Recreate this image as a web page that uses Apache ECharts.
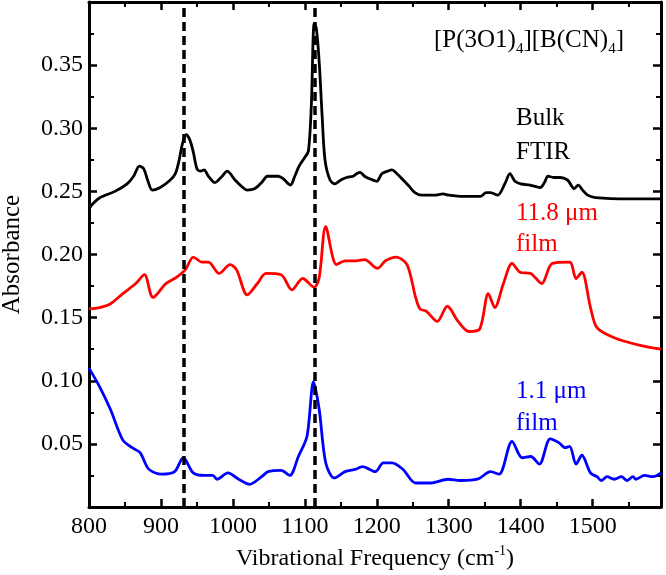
<!DOCTYPE html>
<html>
<head>
    <meta charset="utf-8">
    <title>FTIR</title>
    <script src="https://cdn.jsdelivr.net/npm/echarts@6/dist/echarts.min.js"></script>
    <style>
        html, body { margin: 0; padding: 0; background: #fff; }
        #chart1 { width: 666px; height: 575px; }
    </style>
</head>
<body>
<div id="chart1"></div>
<script>
    // 数据: 频率 (cm-1) 与吸光度
    var bulkX = [800, 805, 815, 836, 853, 862, 870, 876, 882, 888, 899, 913, 920, 925, 930, 935, 940, 945, 950, 955, 960,
        966, 975, 985, 992, 1003, 1012, 1020, 1030, 1040, 1048, 1055, 1063, 1070, 1080, 1086, 1092, 1100, 1105, 1109, 1113,
        1116, 1120, 1124, 1128, 1135, 1142, 1150, 1158, 1167, 1172, 1177, 1183, 1190, 1200, 1207, 1215, 1221, 1228, 1235, 1245,
        1253, 1262, 1280, 1292, 1300, 1320, 1344, 1352, 1358, 1368, 1378, 1385, 1392, 1400, 1413, 1427, 1433, 1438, 1446, 1455,
        1465, 1470, 1474, 1480, 1486, 1493, 1504, 1550, 1595];
    var bulkY = [0.236, 0.240, 0.245, 0.250, 0.256, 0.262, 0.270, 0.268, 0.258, 0.251, 0.253, 0.259, 0.264, 0.274, 0.288, 0.295, 0.291, 0.281, 0.268, 0.266, 0.267,
        0.262, 0.257, 0.262, 0.266, 0.259, 0.254, 0.251, 0.252, 0.257, 0.262, 0.262, 0.262, 0.260, 0.255, 0.262, 0.270, 0.277, 0.282, 0.318, 0.383,
        0.379, 0.352, 0.310, 0.275, 0.259, 0.256, 0.259, 0.261, 0.262, 0.264, 0.265, 0.262, 0.260, 0.258, 0.264, 0.266, 0.267, 0.264, 0.260, 0.254,
        0.249, 0.247, 0.247, 0.248, 0.247, 0.246, 0.246, 0.249, 0.249, 0.247, 0.256, 0.264, 0.258, 0.256, 0.255, 0.253, 0.257, 0.262, 0.261, 0.261,
        0.259, 0.255, 0.252, 0.255, 0.251, 0.247, 0.245, 0.244, 0.244];

    var filmX = [800, 815, 830, 847, 865, 877, 889, 907, 922, 934, 945, 957, 966, 981, 996, 1005, 1020, 1034, 1046, 1067,
        1082, 1097, 1113, 1120, 1129, 1144, 1156, 1171, 1183, 1201, 1212, 1227, 1242, 1254, 1260, 1269, 1284, 1298, 1313, 1328,
        1343, 1355, 1364, 1376, 1388, 1399, 1414, 1429, 1444, 1468, 1477, 1485, 1497, 1506, 1530, 1566, 1595];
    var filmY = [0.157, 0.158, 0.161, 0.169, 0.177, 0.184, 0.166, 0.177, 0.182, 0.188, 0.198, 0.194, 0.194, 0.185, 0.192, 0.188, 0.168, 0.177, 0.185, 0.184,
        0.172, 0.181, 0.174, 0.182, 0.222, 0.192, 0.195, 0.195, 0.196, 0.189, 0.195, 0.198, 0.192, 0.166, 0.157, 0.155, 0.147, 0.159, 0.147, 0.139,
        0.141, 0.169, 0.158, 0.177, 0.193, 0.186, 0.185, 0.177, 0.193, 0.194, 0.181, 0.186, 0.158, 0.142, 0.134, 0.128, 0.125];

    var thinX = [800, 815, 830, 847, 860, 871, 883, 901, 919, 931, 945, 960, 972, 978, 993, 1008, 1023, 1040, 1049, 1067,
        1079, 1091, 1103, 1112, 1120, 1129, 1141, 1156, 1171, 1180, 1198, 1209, 1221, 1236, 1254, 1275, 1299, 1316, 1340, 1358,
        1370, 1388, 1402, 1414, 1426, 1441, 1453, 1462, 1468, 1477, 1485, 1497, 1506, 1512, 1520, 1530, 1540, 1548, 1556, 1560,
        1572, 1584, 1595];
    var thinY = [0.110, 0.095, 0.077, 0.053, 0.047, 0.043, 0.030, 0.026, 0.028, 0.039, 0.027, 0.025, 0.025, 0.022, 0.027, 0.022, 0.018, 0.024, 0.028, 0.029,
        0.025, 0.040, 0.056, 0.099, 0.077, 0.035, 0.023, 0.028, 0.030, 0.032, 0.028, 0.035, 0.035, 0.030, 0.019, 0.019, 0.022, 0.021, 0.022, 0.028,
        0.026, 0.052, 0.039, 0.040, 0.034, 0.054, 0.051, 0.047, 0.048, 0.034, 0.041, 0.027, 0.024, 0.021, 0.024, 0.022, 0.024, 0.021, 0.024, 0.022,
        0.025, 0.024, 0.027];

    var peakLines = [932, 1114];
    var xTicks = {min: 800, max: 1595, interval: 100};
    var yTicks = {min: 0, max: 0.4, interval: 0.05};

    function zip(xs, ys) {
        var out = [];
        for (var i = 0; i < xs.length; i++) out.push([xs[i], ys[i]]);
        return out;
    }

    var serif = 'Liberation Serif';

    // 每个轴单独生成样式对象
    function axisLine() {
        return {show: true, onZero: false, lineStyle: {color: '#000', width: 3}};
    }
    function tickIn() {
        return {show: true, inside: true, length: 8, lineStyle: {color: '#000', width: 2.5}};
    }
    function minorIn() {
        return {show: true, splitNumber: 2, length: 5, lineStyle: {color: '#000', width: 2}};
    }
    // 网格线保持开启但透明 (关闭时刻度会朝外)
    function hiddenSplit() {
        return {show: true, lineStyle: {color: 'rgba(0,0,0,0)', width: 0}};
    }

    function xAxis(pos, withLabel) {
        return {
            type: 'value', position: pos, min: xTicks.min, max: xTicks.max, interval: xTicks.interval,
            axisLine: axisLine(), axisTick: tickIn(), minorTick: minorIn(), splitLine: hiddenSplit(),
            axisLabel: {
                show: withLabel, showMaxLabel: false, margin: 8, color: '#000', fontFamily: serif, fontSize: 24,
                formatter: function (v) { return v > 1590 ? '' : String(Math.round(v)); }
            },
            name: withLabel ? 'Vibrational Frequency (cm{sup|-1})' : '',
            nameLocation: 'middle', nameGap: 32,
            nameTextStyle: {
                color: '#000', fontFamily: serif, fontSize: 24, lineHeight: 30,
                rich: {sup: {fontFamily: serif, fontSize: 14, lineHeight: 14, verticalAlign: 'top', color: '#000'}}
            }
        };
    }

    function yAxis(pos, withLabel) {
        return {
            type: 'value', position: pos, min: yTicks.min, max: yTicks.max, interval: yTicks.interval,
            axisLine: axisLine(), axisTick: tickIn(), minorTick: minorIn(), splitLine: hiddenSplit(),
            axisLabel: {
                show: withLabel, margin: 6, color: '#000', fontFamily: serif, fontSize: 24,
                formatter: function (v) { return (v < 0.01 || v > 0.39) ? '' : v.toFixed(2); }
            },
            name: withLabel ? 'Absorbance' : '',
            nameLocation: 'middle', nameGap: 64,
            nameTextStyle: {color: '#000', fontFamily: serif, fontSize: 25}
        };
    }

    function note(text, x, y, color, lh) {
        return {
            type: 'text', x: x, y: y,
            style: {
                text: text, fill: color, font: '25px "' + serif + '"', lineHeight: lh,
                align: 'left', verticalAlign: 'middle',
                rich: {
                    n: {fontFamily: serif, fontSize: 25, lineHeight: 34, fill: color},
                    sub: {fontFamily: serif, fontSize: 15, lineHeight: 14, verticalAlign: 'bottom', fill: color}
                }
            }
        };
    }

    var myChart1 = echarts.init(document.getElementById('chart1'), null, {renderer: 'canvas'});
    myChart1.setOption({
        animation: false,
        backgroundColor: '#fff',
        grid: {left: 89, right: 5, top: 2, bottom: 68, containLabel: false, outerBoundsMode: 'none'},
        xAxis: [xAxis('bottom', true), xAxis('top', false)],
        yAxis: [yAxis('left', true), yAxis('right', false)],
        graphic: [
            note('{n|[P(3O1)}{sub|4}{n|][B(CN)}{sub|4}{n|]}', 434, 40, '#000', 34),
            note('Bulk\nFTIR', 516, 135, '#000', 34),
            note('11.8 μm\nfilm', 516, 229, '#ff0000', 31),
            note('1.1 μm\nfilm', 516, 407, '#0000ff', 32)
        ],
        series: [
            {
                name: 'Bulk FTIR', type: 'line', data: zip(bulkX, bulkY), showSymbol: false, smooth: 0.3,
                lineStyle: {color: '#000', width: 2.8}, z: 3,
                markLine: {
                    silent: true, symbol: 'none', label: {show: false},
                    lineStyle: {color: '#000', type: [9, 5], width: 3.5},
                    data: peakLines.map(function (v) { return {xAxis: v}; })
                }
            },
            {
                name: '11.8 μm film', type: 'line', data: zip(filmX, filmY), showSymbol: false, smooth: 0.3,
                lineStyle: {color: '#ff0000', width: 2.8}, z: 3
            },
            {
                name: '1.1 μm film', type: 'line', data: zip(thinX, thinY), showSymbol: false, smooth: 0.3,
                lineStyle: {color: '#0000ff', width: 2.8}, z: 3
            }
        ]
    });
</script>
</body>
</html>
